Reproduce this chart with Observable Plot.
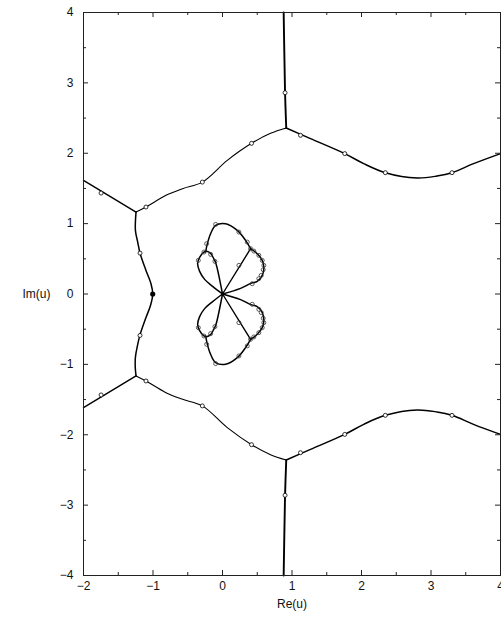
<!DOCTYPE html>
<html>
<head>
<meta charset="utf-8">
<script src="https://cdn.jsdelivr.net/npm/d3@7"></script>
<script src="https://cdn.jsdelivr.net/npm/@observablehq/plot@0.6"></script>
<style>
  html, body { margin: 0; padding: 0; background: #fff; }
</style>
</head>
<body>
<div id="chart"></div>
<script>
// ---- tick values / labels ----
const xMajor = [-2, -1, 0, 1, 2, 3, 4];
const xMinor = [-1.5, -0.5, 0.5, 1.5, 2.5, 3.5];
const xLabels = ["−2", "−1", "0", "1", "2", "3", "4"];
const yMajor = [-4, -3, -2, -1, 0, 1, 2, 3, 4];
const yMinor = [-3.5, -2.5, -1.5, -0.5, 0.5, 1.5, 2.5, 3.5];
const yLabels = ["−4", "−3", "−2", "−1", "0", "1", "2", "3", "4"];

// ---- outer branches (upper half) ----
const topVertical = [[0.88, 4.0], [0.89, 3.4], [0.90, 2.86], [0.917, 2.359]];
const topRight = [[0.917, 2.359], [1.266, 2.208], [1.759, 1.995], [2.032, 1.852], [2.343, 1.724], [2.799, 1.648], [3.086, 1.676], [3.302, 1.724], [3.612, 1.852], [4.0, 1.995]];
const topLeft = [[0.917, 2.359], [0.691, 2.283], [0.418, 2.141], [0.069, 1.899], [-0.29, 1.59], [-0.573, 1.497], [-0.813, 1.402], [-1.101, 1.236], [-1.244, 1.164]];
const topArm = [[-1.244, 1.164], [-2.0, 1.615]];
// ---- outer branches (lower half) ----
const botVertical = [[0.88, -4.0], [0.89, -3.4], [0.90, -2.86], [0.917, -2.359]];
const botRight = [[0.917, -2.359], [1.266, -2.208], [1.759, -1.995], [2.032, -1.852], [2.343, -1.724], [2.799, -1.648], [3.086, -1.676], [3.302, -1.724], [3.612, -1.852], [4.0, -1.995]];
const botLeft = [[0.917, -2.359], [0.691, -2.283], [0.418, -2.141], [0.069, -1.899], [-0.29, -1.59], [-0.573, -1.497], [-0.813, -1.402], [-1.101, -1.236], [-1.244, -1.164]];
const botArm = [[-1.244, -1.164], [-2.0, -1.615]];
// ---- left wavy branch through the real axis ----
const leftWave = [[-1.244, 1.164], [-1.253, 0.904], [-1.220, 0.738], [-1.187, 0.581], [-1.101, 0.335], [-1.029, 0.146], [-1.004, 0.0], [-1.035, -0.16], [-1.101, -0.335], [-1.187, -0.581], [-1.225, -0.74], [-1.253, -0.897], [-1.255, -1.05], [-1.244, -1.164]];

// ---- flower around the origin (upper half) ----
const petalLeftU = [[0, 0], [-0.142, 0.108], [-0.257, 0.208], [-0.329, 0.321], [-0.358, 0.435], [-0.329, 0.52], [-0.272, 0.591], [-0.228, 0.606], [-0.171, 0.577], [-0.128, 0.506], [-0.099, 0.449], [0, 0]];
const petalTopU = [[-0.243, 0.596], [-0.218, 0.715], [-0.171, 0.857], [-0.099, 0.975], [0.045, 0.999], [0.213, 0.904], [0.332, 0.762], [0.404, 0.644]];
const spokeU = [[0.404, 0.644], [0, 0]];
const petalRightU = [[0.404, 0.644], [0.5, 0.573], [0.572, 0.478], [0.595, 0.382], [0.572, 0.264], [0.5, 0.179], [0.418, 0.155], [0.26, 0.08], [0, 0]];
// ---- flower (lower half) ----
const petalLeftL = [[0, 0], [-0.142, -0.108], [-0.257, -0.208], [-0.329, -0.321], [-0.358, -0.435], [-0.329, -0.52], [-0.272, -0.591], [-0.228, -0.606], [-0.171, -0.577], [-0.128, -0.506], [-0.099, -0.449], [0, 0]];
const petalTopL = [[-0.243, -0.596], [-0.218, -0.715], [-0.171, -0.857], [-0.099, -0.975], [0.045, -0.999], [0.213, -0.904], [0.332, -0.762], [0.404, -0.644]];
const spokeL = [[0.404, -0.644], [0, 0]];
const petalRightL = [[0.404, -0.644], [0.5, -0.573], [0.572, -0.478], [0.595, -0.382], [0.572, -0.264], [0.5, -0.179], [0.418, -0.155], [0.26, -0.08], [0, 0]];

// ---- sample points (open circles) ----
const outerMarks = [[0.90, 2.86], [1.122, 2.255], [1.759, 1.995], [2.343, 1.724], [3.302, 1.724], [0.418, 2.141], [-0.29, 1.59], [-1.101, 1.236], [-1.747, 1.434], [-1.187, 0.581],
  [0.90, -2.86], [1.122, -2.255], [1.759, -1.995], [2.343, -1.724], [3.302, -1.724], [0.418, -2.141], [-0.29, -1.59], [-1.101, -1.236], [-1.747, -1.434], [-1.187, -0.589]];
const flowerMarks = [[-0.099, 0.989], [0.236, 0.88], [0.356, 0.738], [-0.228, 0.715], [-0.267, 0.596], [-0.171, 0.563], [-0.348, 0.478], [-0.109, 0.463], [0.236, 0.407], [0.404, 0.644], [0.451, 0.61], [0.523, 0.549], [0.572, 0.478], [0.595, 0.407], [0.586, 0.345], [0.557, 0.264], [0.523, 0.218], [0.428, 0.146],
  [-0.099, -0.989], [0.236, -0.88], [0.356, -0.738], [-0.228, -0.715], [-0.267, -0.596], [-0.171, -0.563], [-0.348, -0.478], [-0.109, -0.463], [0.236, -0.407], [0.404, -0.644], [0.451, -0.61], [0.523, -0.549], [0.572, -0.478], [0.595, -0.407], [0.586, -0.345], [0.557, -0.264], [0.523, -0.218], [0.428, -0.146]];
const filledMarks = [[-1.004, 0.0]];

const W = 501, H = 623;
const mL = 83, mR = 1, mT = 12, mB = 48;
const fw = W - mL - mR, fh = H - mT - mB;

function toRows(arr, id) { return arr.map(([x, y]) => ({x, y, id})); }
const smoothCurves = [
  ["topRight", topRight], ["botRight", botRight], ["leftWave", leftWave],
  ["petalLeftU", petalLeftU], ["petalTopU", petalTopU], ["petalRightU", petalRightU],
  ["petalLeftL", petalLeftL], ["petalTopL", petalTopL], ["petalRightL", petalRightL]
].flatMap(([id, a]) => toRows(a, id));
const thinCurves = [["topLeft", topLeft], ["botLeft", botLeft]].flatMap(([id, a]) => toRows(a, id));
const straightCurves = [
  ["topArm", topArm], ["botArm", botArm], ["spokeU", spokeU], ["spokeL", spokeL]
].flatMap(([id, a]) => toRows(a, id));
const verticals = [["topVertical", topVertical], ["botVertical", botVertical]].flatMap(([id, a]) => toRows(a, id));

const xLab = xMajor.map((v, i) => ({v, t: xLabels[i]}));
const yLab = yMajor.map((v, i) => ({v, t: yLabels[i]}));

const chart = Plot.plot({
  width: W, height: H,
  marginLeft: mL, marginRight: mR, marginTop: mT, marginBottom: mB,
  x: {domain: [-2, 4], axis: null},
  y: {domain: [-4, 4], axis: null},
  style: {fontFamily: "'Liberation Sans', Arial, Helvetica, sans-serif", fontSize: "12px", background: "white", overflow: "visible"},
  marks: [
    Plot.line(smoothCurves, {x: "x", y: "y", z: "id", curve: "catmull-rom", stroke: "black", strokeWidth: 1.5}),
    Plot.line(thinCurves, {x: "x", y: "y", z: "id", curve: "catmull-rom", stroke: "black", strokeWidth: 1.1}),
    Plot.line(straightCurves, {x: "x", y: "y", z: "id", stroke: "black", strokeWidth: 1.4}),
    Plot.line(verticals, {x: "x", y: "y", z: "id", curve: "catmull-rom", stroke: "black", strokeWidth: 1.9}),
    Plot.dot(outerMarks, {x: d => d[0], y: d => d[1], r: 2, stroke: "black", strokeWidth: 0.8, fill: "white"}),
    Plot.dot(flowerMarks, {x: d => d[0], y: d => d[1], r: 2, stroke: "#333", strokeWidth: 0.8, fill: "none"}),
    Plot.dot(filledMarks, {x: d => d[0], y: d => d[1], r: 2.6, fill: "black"}),
    Plot.frame({stroke: "#222", strokeWidth: 1}),
    // ticks (inward) on all sides
    Plot.tickX(xMajor, {x: d => d, insetTop: fh - 5, stroke: "#222"}),
    Plot.tickX(xMajor, {x: d => d, insetBottom: fh - 5, stroke: "#222"}),
    Plot.tickX(xMinor, {x: d => d, insetTop: fh - 3, stroke: "#222"}),
    Plot.tickX(xMinor, {x: d => d, insetBottom: fh - 3, stroke: "#222"}),
    Plot.tickY(yMajor, {y: d => d, insetRight: fw - 5, stroke: "#222"}),
    Plot.tickY(yMajor, {y: d => d, insetLeft: fw - 5, stroke: "#222"}),
    Plot.tickY(yMinor, {y: d => d, insetRight: fw - 3, stroke: "#222"}),
    Plot.tickY(yMinor, {y: d => d, insetLeft: fw - 3, stroke: "#222"}),
    // tick labels
    Plot.text(xLab, {x: "v", text: "t", frameAnchor: "bottom", dy: 14, fill: "#111"}),
    Plot.text(yLab, {y: "v", text: "t", frameAnchor: "left", dx: -10, textAnchor: "end", fill: "#111"}),
    // axis titles
    Plot.text(["Re(u)"], {frameAnchor: "bottom", dy: 32, fill: "#111"}),
    Plot.text(["Im(u)"], {frameAnchor: "left", dx: -61, fill: "#111"})
  ]
});
document.getElementById("chart").appendChild(chart);
</script>
</body>
</html>
